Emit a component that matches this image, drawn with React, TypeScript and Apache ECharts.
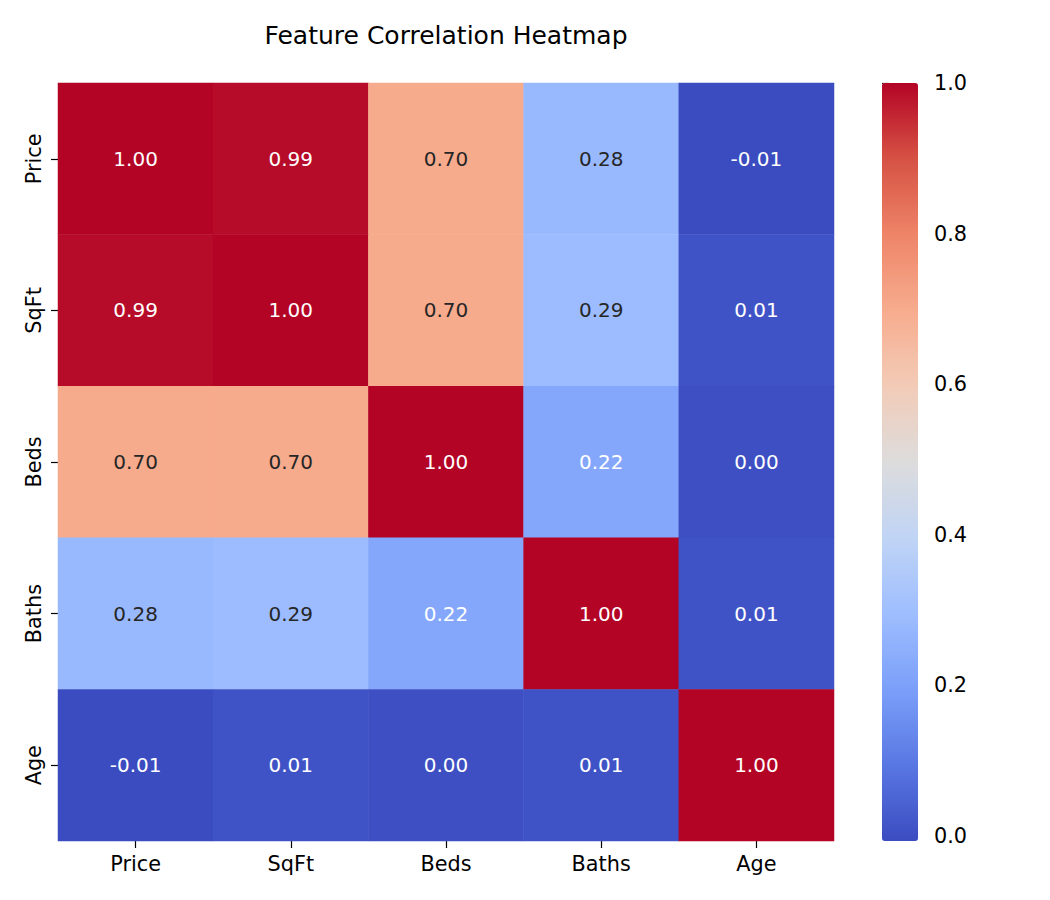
import React, { useEffect, useRef } from "react";
import * as echarts from "echarts";

const features = ["Price", "SqFt", "Beds", "Baths", "Age"];
const rowPrice = [1.0, 0.99, 0.7, 0.28, -0.007];
const rowSqFt = [0.99, 1.0, 0.7, 0.29, 0.01];
const rowBeds = [0.7, 0.7, 1.0, 0.22, 0.0];
const rowBaths = [0.28, 0.29, 0.22, 1.0, 0.01];
const rowAge = [-0.007, 0.01, 0.0, 0.01, 1.0];
const matrix = [rowPrice, rowSqFt, rowBeds, rowBaths, rowAge];
const colorbarTicks = [0, 0.2, 0.4, 0.6, 0.8, 1.0];
const coolwarm = [
  "#3b4cc0", "#5977e3", "#7b9ff9", "#9ebeff", "#c0d4f5", "#dddcdc",
  "#f2cbb7", "#f7ac8e", "#ee8468", "#d65244", "#b40426",
];

const FONT = "DejaVu Sans";

function hexToRgb(h: string) {
  return [parseInt(h.slice(1, 3), 16), parseInt(h.slice(3, 5), 16), parseInt(h.slice(5, 7), 16)];
}

function cmap(t: number) {
  const x = Math.max(0, Math.min(1, t)) * (coolwarm.length - 1);
  const i = Math.min(Math.floor(x), coolwarm.length - 2);
  const f = x - i;
  const a = hexToRgb(coolwarm[i]);
  const b = hexToRgb(coolwarm[i + 1]);
  return a.map((v, k) => v + (b[k] - v) * f);
}

function luminance(rgb: number[]) {
  const lin = rgb.map((c) => {
    const s = c / 255;
    return s <= 0.03928 ? s / 12.92 : Math.pow((s + 0.055) / 1.055, 2.4);
  });
  return 0.2126 * lin[0] + 0.7152 * lin[1] + 0.0722 * lin[2];
}

export default function App() {
  const ref = useRef<HTMLDivElement>(null);
  useEffect(() => {
    document.body.style.margin = "0";
    const chart = echarts.init(ref.current!, null, { renderer: "svg" });
    const all = matrix.flat();
    const vmin = Math.min(...all);
    const vmax = Math.max(...all);
    const data: any[] = [];
    matrix.forEach((row, r) => {
      row.forEach((v, c) => {
        const lum = luminance(cmap((v - vmin) / (vmax - vmin)));
        data.push({
          value: [c, r, v],
          label: { color: lum > 0.408 ? "#262626" : "#ffffff" },
        });
      });
    });

    const gridLeft = 58, gridTop = 83, gridW = 776, gridH = 758;
    const cbLeft = 882, cbW = 36;

    chart.setOption({
      animation: false,
      title: {
        text: "Feature Correlation Heatmap",
        left: 441,
        top: 18,
        textAlign: "center",
        textStyle: { fontFamily: FONT, fontSize: 25, fontWeight: "normal", color: "#000" },
      },
      grid: [
        { left: gridLeft, top: gridTop, width: gridW, height: gridH },
        { left: cbLeft, top: gridTop, width: cbW, height: gridH },
      ],
      xAxis: [
        {
          type: "category",
          gridIndex: 0,
          data: features,
          position: "bottom",
          axisLine: { show: false },
          axisTick: { show: true, alignWithLabel: true, length: 7, lineStyle: { color: "#000", width: 1.2 } },
          axisLabel: { fontFamily: FONT, fontSize: 20.8, color: "#000", margin: 12 },
          splitLine: { show: false },
        },
        {
          type: "value",
          gridIndex: 1,
          show: false,
        },
      ],
      yAxis: [
        {
          type: "category",
          gridIndex: 0,
          data: features,
          inverse: true,
          axisLine: { show: false },
          axisTick: { show: true, alignWithLabel: true, length: 7, lineStyle: { color: "#000", width: 1.2 } },
          axisLabel: { fontFamily: FONT, fontSize: 20.8, color: "#000", rotate: 90, margin: 14 },
          splitLine: { show: false },
        },
        {
          type: "value",
          gridIndex: 1,
          position: "right",
          min: vmin,
          max: vmax,
          axisLine: { show: false },
          splitLine: { show: false },
          axisTick: {
            show: true,
            length: 7,
            customValues: colorbarTicks,
            lineStyle: { color: "#000", width: 1.2 },
          },
          axisLabel: {
            show: true,
            customValues: colorbarTicks,
            fontFamily: FONT,
            fontSize: 20.8,
            color: "#000",
            margin: 16,
            formatter: (v: number) => v.toFixed(1),
          },
        },
      ],
      visualMap: {
        type: "continuous",
        seriesIndex: 0,
        min: vmin,
        max: vmax,
        orient: "vertical",
        left: cbLeft,
        top: gridTop,
        itemWidth: cbW,
        itemHeight: gridH,
        padding: 0,
        calculable: false,
        hoverLink: false,
        inRange: { color: coolwarm },
      },
      series: [
        {
          type: "heatmap",
          xAxisIndex: 0,
          yAxisIndex: 0,
          data,
          itemStyle: { borderWidth: 0 },
          label: {
            show: true,
            fontFamily: FONT,
            fontSize: 20,
            formatter: (p: any) => p.value[2].toFixed(2),
          },
          emphasis: { disabled: true },
        },
      ],
    });
    return () => chart.dispose();
  }, []);
  return <div ref={ref} style={{ width: 1050, height: 900 }} />;
}
